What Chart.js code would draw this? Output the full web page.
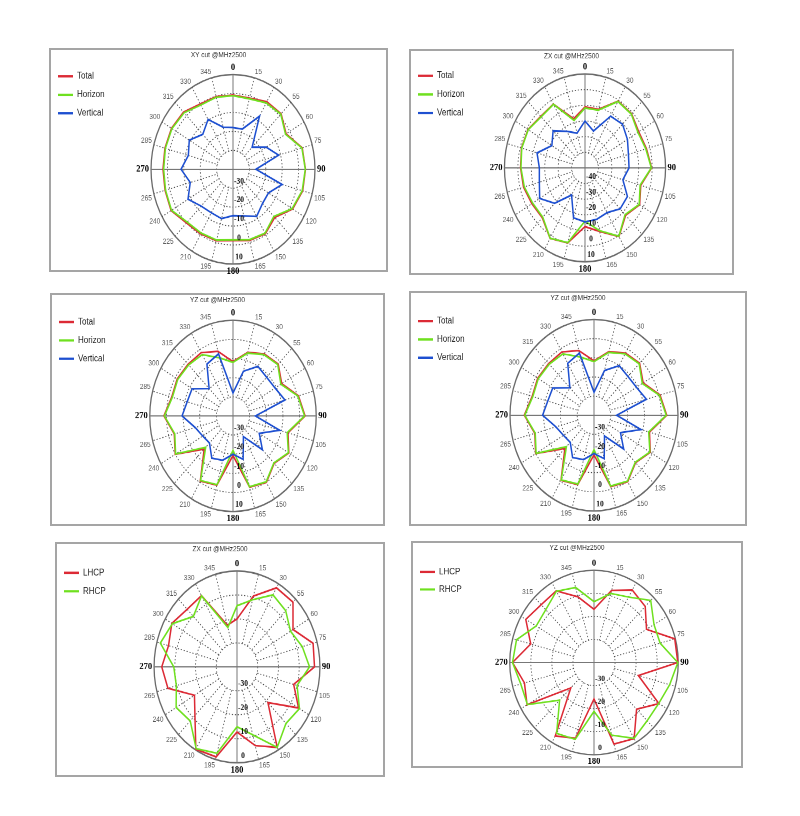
<!DOCTYPE html>
<html>
<head>
<meta charset="utf-8">
<title>Radiation patterns @MHz2500</title>
<script src="https://cdn.jsdelivr.net/npm/chart.js@4.4.0/dist/chart.umd.min.js"></script>
<style>
  html, body { margin: 0; padding: 0; background: #fff; }
  body { width: 800px; height: 816px; position: relative; overflow: hidden; }
  .panel { position: absolute; box-sizing: border-box; border: 2px solid #a5a5a5; }
  .wrap { position: absolute; transform-origin: 0 0; }
</style>
</head>
<body>
<script>
// angle labels as printed on the plots (clockwise from top)
const angleLabels = ['0', '15', '30', '55', '60', '75', '90', '105', '120', '135', '150', '165',
                     '180', '195', '210', '225', '240', '265', '270', '285', '300', '315', '330', '345'];

// XY cut (dB)
const xyTotal    = [-0.8, -1.1, 1.2, 1.5, -2.6, 3.7, 4.2, 4.0, 2.0, -4.0, -0.6, -1.1, -2.3, -0.9, -0.6, 0.1, 3.6, 2.9, 2.7, 3.0, 3.3, 2.7, -0.2, -0.3];
const xyHorizon  = [-1.1, -1.5, 0.5, 1.2, -3.0, 3.5, 4.1, 3.7, 1.6, -4.8, -1.0, -1.5, -2.7, -1.3, -1.1, -0.5, 3.3, 2.6, 2.3, 2.7, 3.0, 2.2, -0.8, -0.6];
const xyVertical = [-18, -18, -7.6, -23.5, -16.6, -11.2, -26, -9, -15, -14.5, -11.2, -14.5, -15.5, -13, -13.5, -12.5, -8.3, -13, -8.3, -11.8, -9.2, -13.9, -9.6, -17];

// ZX cut (dB)
const zxTotal    = [-11, -11.2, -0.7, -1.0, -3.8, -2.6, -0.4, -7.0, -3.0, -7.2, 0.6, -8.0, -12.5, -0.4, 2.0, -5.0, -4.3, -2.6, -2.0, -1.0, -1.0, -3.4, -2.9, -17.5];
const zxHorizon  = [-11.7, -11.8, -1.0, -1.3, -4.5, -3.1, -0.6, -7.5, -3.4, -7.8, 0.4, -8.5, -16, -0.6, 1.9, -5.5, -5.0, -3.2, -2.3, -1.2, -1.2, -3.8, -3.1, -18.6];
const zxVertical = [-20, -25.6, -11.8, -10.5, -13.5, -16.5, -17.2, -20.8, -13.5, -13, -17, -16, -15.5, -17, -30, -18, -11, -14.8, -16, -13, -21.5, -16.4, -23, -27];

// YZ cut (dB)
const yzTotal    = [-11.6, -5.6, -2.5, -1.6, -6.2, 0.7, 3.3, -5.8, -1.3, -5.0, 0.1, -1.4, -19.3, -2.5, -0.7, -15.5, 0.1, -3.5, 1.5, -1.9, -1.3, -1.8, -1.8, -5.0];
const yzHorizon  = [-12, -6, -3, -2, -6.8, 0.3, 3.0, -6.3, -1.6, -5.3, -0.2, -1.7, -22, -2.8, -1.0, -16.8, -0.2, -3.8, 1.2, -2.3, -1.7, -2.3, -3.0, -8.5];
const yzVertical = [-28, -15.8, -10.1, -11.4, -10.8, -7.7, -26.5, -11, -21.8, -15, -27.5, -16.5, -20, -16, -14.5, -20, -19, -16.5, -9.4, -11.5, -11.6, -19.7, -8.7, -6.4];

// circular polarisation (dB)
const zxLhcp = [-20, -9.4, -1.9, -1.8, -8.8, -2, -2.6, -11.7, -5.7, -18.9, -1.2, -6, -12.8, -1.1, -0.3, -11.3, -16.3, -5.5, -3.7, -5.8, -3.7, -6, -5.7, -22];
const zxRhcp = [-14.5, -11, -5.3, -6.8, -10.2, -7.4, -5, -10, -5.2, -6.6, -1.2, -10.6, -15, -2.7, -0.6, -8.1, -6.1, -9.7, -9.5, -1.7, -4, -10.2, -5.8, -23];
const yzLhcp = [-16.9, -7.6, -3.7, -5.6, -11.2, -0.3, -0.2, -18.2, -4.4, -11.4, -1.9, -3.4, -24.2, -6, -3.2, -24.4, -3.3, -5.8, -1.3, -8.9, -2.6, -4.5, -4.1, -10.5];
const yzRhcp = [-13.6, -9, -7.2, -1.9, -7.1, -7.5, -0.2, -2.8, -4.5, -4.3, -2, -7.4, -18.8, -5.5, -4.5, -16.9, -3.5, -4, -1.3, -1.9, -8.3, -7.6, -4.3, -6.3];

const RED = '#dc2a35', GREEN = '#6fe01f', BLUE = '#1d4fd0';
const LABEL_PAD = 2, LABEL_SIZE = 8.5, PAD_LEFT = 1;

function hv(total, horizon, vertical) {
  return [
    { label: 'Total', data: total, color: RED },
    { label: 'Horizon', data: horizon, color: GREEN },
    { label: 'Vertical', data: vertical, color: BLUE }
  ];
}
function cp(lhcp, rhcp) {
  return [
    { label: 'LHCP', data: lhcp, color: RED },
    { label: 'RHCP', data: rhcp, color: GREEN }
  ];
}

// panel boxes and polar circle (page pixels); the source image is stretched vertically
const panels = [
  { L: 49, T: 48, W: 339, H: 224, cx: 233.5, cy: 169.3, rx: 82, ry: 94.7, min: -40, max: 10, legendW: 60, title: 'XY cut @MHz2500', series: hv(xyTotal, xyHorizon, xyVertical) },
  { L: 409, T: 49, W: 325, H: 226, cx: 585.5, cy: 169, rx: 81.5, ry: 95, min: -50, max: 10, legendW: 60, title: 'ZX cut @MHz2500', series: hv(zxTotal, zxHorizon, zxVertical) },
  { L: 50, T: 293, W: 335, H: 233, cx: 233.7, cy: 416.8, rx: 84, ry: 96.5, min: -40, max: 10, legendW: 60, title: 'YZ cut @MHz2500', series: hv(yzTotal, yzHorizon, yzVertical) },
  { L: 409, T: 291, W: 338, H: 235, cx: 594, cy: 415.8, rx: 84.5, ry: 96.3, min: -40, max: 10, legendW: 60, title: 'YZ cut @MHz2500', series: hv(yzTotal, yzHorizon, yzVertical) },
  { L: 55, T: 542, W: 330, H: 235, cx: 237, cy: 667.3, rx: 83.3, ry: 96.3, min: -40, max: 0, legendW: 56, title: 'ZX cut @MHz2500', series: cp(zxLhcp, zxRhcp) },
  { L: 411, T: 541, W: 332, H: 227, cx: 594, cy: 662.8, rx: 84.5, ry: 92.5, min: -40, max: 0, legendW: 56, title: 'YZ cut @MHz2500', series: cp(yzLhcp, yzRhcp) }
];

const isCardinal = (i) => i % 6 === 0;

// blank the middle so the dotted spokes start at the first ring, then redraw the axes
const innerDisk = {
  id: 'innerDisk',
  beforeDatasetsDraw(chart) {
    const s = chart.scales.r;
    const ctx = chart.ctx;
    const r1 = s.getDistanceFromCenterForValue(s.min + 10);
    ctx.save();
    ctx.fillStyle = '#fff';
    ctx.beginPath();
    ctx.arc(s.xCenter, s.yCenter, r1 - 0.8, 0, Math.PI * 2);
    ctx.fill();
    ctx.strokeStyle = '#777';
    ctx.lineWidth = 1;
    [0, 6].forEach(i => {
      const a = s.getPointPosition(i, r1);
      const b = s.getPointPosition(i + 12, r1);
      ctx.beginPath();
      ctx.moveTo(a.x, a.y);
      ctx.lineTo(b.x, b.y);
      ctx.stroke();
    });
    ctx.restore();
  }
};

// ring values written down the 180 axis, just inside each ring
const tickText = {
  id: 'tickText',
  afterDatasetsDraw(chart) {
    const s = chart.scales.r;
    const ctx = chart.ctx;
    ctx.save();
    ctx.font = 'bold 7.5px "Liberation Serif"';
    ctx.fillStyle = '#111';
    ctx.textAlign = 'center';
    ctx.textBaseline = 'middle';
    s.ticks.forEach(t => {
      if (t.value <= s.min) return;
      const d = s.getDistanceFromCenterForValue(t.value);
      ctx.fillText(String(t.value), s.xCenter + 6, s.yCenter + d - 6);
    });
    ctx.restore();
  }
};

// small caption centred on the whole panel (not on the plot area)
const panelTitle = {
  id: 'panelTitle',
  afterDraw(chart, args, opts) {
    const ctx = chart.ctx;
    ctx.save();
    ctx.font = '6.5px "Liberation Sans"';
    ctx.fillStyle = '#333';
    ctx.textAlign = 'center';
    ctx.textBaseline = 'middle';
    ctx.fillText(opts.text, chart.width / 2, 6.4);
    ctx.restore();
  }
};

Chart.defaults.font.family = "'Liberation Sans', Arial, sans-serif";

panels.forEach(p => {
  const box = document.createElement('div');
  box.className = 'panel';
  box.style.left = p.L + 'px';
  box.style.top = p.T + 'px';
  box.style.width = p.W + 'px';
  box.style.height = p.H + 'px';
  document.body.appendChild(box);

  const sy = p.ry / p.rx;
  const h0 = Math.round((p.H + 12) / sy);
  const cxc = p.cx - p.L;
  const cyc = (p.cy - p.T) / sy;
  const ext = p.rx + LABEL_PAD + LABEL_SIZE;
  const areaTop = cyc - ext;
  const areaBottom = cyc + ext;
  const areaLeft = PAD_LEFT + p.legendW;
  const areaRight = 2 * cxc - areaLeft;

  const wrap = document.createElement('div');
  wrap.className = 'wrap';
  wrap.style.left = p.L + 'px';
  wrap.style.top = p.T + 'px';
  wrap.style.width = p.W + 'px';
  wrap.style.height = h0 + 'px';
  wrap.style.transform = 'scaleY(' + sy + ')';
  const canvas = document.createElement('canvas');
  canvas.width = p.W;
  canvas.height = h0;
  wrap.appendChild(canvas);
  document.body.appendChild(wrap);

  const n = p.series.length;
  new Chart(canvas, {
    type: 'radar',
    data: {
      labels: angleLabels,
      datasets: p.series.map((s, i) => ({
        label: s.label,
        data: s.data,
        borderColor: s.color,
        backgroundColor: s.color,
        borderWidth: 1.5,
        pointRadius: 0,
        pointHoverRadius: 0,
        pointBorderWidth: 2,
        fill: false,
        order: n - i
      }))
    },
    options: {
      responsive: false,
      animation: false,
      devicePixelRatio: 2,
      layout: {
        padding: { left: PAD_LEFT, top: areaTop, right: p.W - areaRight, bottom: h0 - areaBottom }
      },
      plugins: {
        panelTitle: { text: p.title },
        legend: {
          position: 'left',
          align: 'start',
          maxWidth: p.legendW,
          labels: {
            usePointStyle: true,
            pointStyle: 'line',
            pointStyleWidth: 15,
            padding: 8,
            color: '#222',
            font: { size: 8, lineHeight: 1.2 },
            sort: (a, b) => a.datasetIndex - b.datasetIndex
          }
        },
        tooltip: { enabled: false }
      },
      scales: {
        r: {
          min: p.min,
          max: p.max,
          startAngle: 0,
          ticks: { display: false, stepSize: 10 },
          grid: {
            circular: true,
            color: (c) => c.tick.value === p.min ? 'rgba(0,0,0,0)' : (c.tick.value === p.max ? '#6a6a6a' : '#4a4a4a'),
            lineWidth: (c) => c.tick.value === p.max ? 1.3 : 0.8
          },
          border: {
            dash: (c) => c.tick.value === p.max ? [] : [1.2, 1.8]
          },
          angleLines: {
            color: (c) => isCardinal(c.index) ? '#777' : '#4a4a4a',
            lineWidth: (c) => isCardinal(c.index) ? 1 : 0.8,
            borderDash: (c) => isCardinal(c.index) ? [] : [1.2, 1.8]
          },
          pointLabels: {
            padding: LABEL_PAD,
            color: (c) => isCardinal(c.index) ? '#000' : '#555',
            font: (c) => isCardinal(c.index)
              ? { family: "'Liberation Serif', serif", size: LABEL_SIZE, weight: 'bold', lineHeight: 1 }
              : { size: 6.5, lineHeight: 1 }
          }
        }
      }
    },
    plugins: [innerDisk, tickText, panelTitle]
  });
});
</script>
</body>
</html>
